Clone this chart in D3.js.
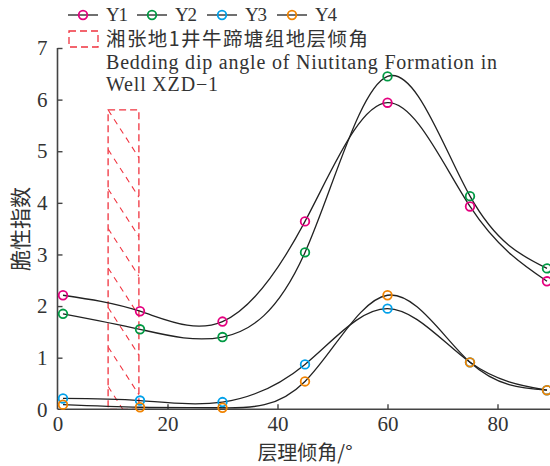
<!DOCTYPE html>
<html>
<head>
<meta charset="utf-8">
<script src="https://cdn.jsdelivr.net/npm/d3@7"></script>
<style>
  html, body { margin: 0; padding: 0; background: #fff; }
  svg { display: block; }
</style>
</head>
<body>
<svg id="chart" width="550" height="466"></svg>
<script>
// Bedding dip angle (degrees) at which brittleness indices were computed
const angles = [1, 15, 30, 45, 60, 75, 89];

// Brittleness index series
const y1 = [2.21, 1.90, 1.70, 3.64, 5.94, 3.93, 2.48];
const y2 = [1.85, 1.55, 1.40, 3.04, 6.45, 4.13, 2.73];
const y3 = [0.21, 0.17, 0.14, 0.87, 1.95, 0.91, 0.37];
const y4 = [0.09, 0.04, 0.03, 0.54, 2.21, 0.91, 0.37];

const seriesNames = ["Y1", "Y2", "Y3", "Y4"];
const seriesColors = ["#e4007f", "#009a44", "#00a0e9", "#f08300"];

// Dip-angle range of the Niutitang Formation in well XZD-1
const bandAngles = [9.2, 14.8];
const bandTop = 5.8;

const xTicks = [0, 20, 40, 60, 80];
const yTicks = [0, 1, 2, 3, 4, 5, 6, 7];

const xLabel = "层理倾角/°";
const yLabel = "脆性指数";
const bandLabelZh = "湘张地1井牛蹄塘组地层倾角";
const bandLabelEn = ["Bedding dip angle of Niutitang Formation in", "Well XZD\u22121"];

const svg = d3.select("#chart");
const serif = "'Liberation Serif', 'Times New Roman', serif";
const cjk = "'Noto Sans CJK SC', sans-serif";
const axisColor = "#444";

const x = d3.scaleLinear().domain([0, 90]).range([57.5, 552.5]);
const y = d3.scaleLinear().domain([0, 7]).range([409.3, 48]);

const series = [y1, y2, y3, y4].map((vals, i) => ({
  name: seriesNames[i],
  color: seriesColors[i],
  points: angles.map((a, j) => ({ a, v: vals[j] }))
}));

// Hatched band
const bx0 = x(bandAngles[0]), bx1 = x(bandAngles[1]);
const by0 = y(bandTop), by1 = y(0);
const red = "#f0333f";
const defs = svg.append("defs");
defs.append("clipPath").attr("id", "bandClip")
  .append("rect").attr("x", bx0).attr("y", by0).attr("width", bx1 - bx0).attr("height", by1 - by0);

const band = svg.append("g");
const hatchStep = 39.5, hatchSlope = 1.55;
const hatchStarts = d3.range(by0, by1, hatchStep);
band.append("g").attr("clip-path", "url(#bandClip)")
  .selectAll("line").data(hatchStarts).join("line")
  .attr("x1", bx0).attr("y1", d => d)
  .attr("x2", bx1).attr("y2", d => d + hatchSlope * (bx1 - bx0))
  .attr("stroke", red).attr("stroke-width", 1.1)
  .attr("stroke-dasharray", "6,5");
band.append("rect")
  .attr("x", bx0).attr("y", by0).attr("width", bx1 - bx0).attr("height", by1 - by0)
  .attr("fill", "none").attr("stroke", red).attr("stroke-width", 1.3)
  .attr("stroke-dasharray", "7,4");

// Axes
const xAxis = d3.axisBottom(x).tickValues(xTicks).tickSize(-5).tickPadding(7).tickFormat(d3.format("d"));
const yAxis = d3.axisLeft(y).tickValues(yTicks).tickSize(-5).tickPadding(10).tickFormat(d3.format("d"));

const gx = svg.append("g").attr("transform", `translate(0,${y(0)})`).call(xAxis);
const gy = svg.append("g").attr("transform", `translate(${x(0)},0)`).call(yAxis);
[gx, gy].forEach(g => {
  g.select(".domain").attr("stroke", axisColor).attr("stroke-width", 1.6);
  g.selectAll(".tick line").attr("stroke", axisColor).attr("stroke-width", 1.4);
  g.selectAll(".tick text").attr("fill", "#333").style("font-family", serif).style("font-size", "21px");
});
gx.select(".domain").attr("d", `M${x(0)},0H550`);
gy.select(".domain").attr("d", `M0,${y(0)}V${y(7)}`);
gy.selectAll(".tick").filter(d => d === 0).select("line").remove();
gx.selectAll(".tick").filter(d => d === 0).select("line").remove();

// Axis titles
svg.append("text").attr("x", 305).attr("y", 460).attr("text-anchor", "middle")
  .style("font-family", cjk).style("font-size", "20px").attr("fill", "#333").text(xLabel);
svg.append("text").attr("transform", "translate(28,229) rotate(-90)").attr("text-anchor", "middle")
  .style("font-family", cjk).style("font-size", "21px").attr("fill", "#333").text(yLabel);

// Smooth curves through the points
const line = d3.line().x(d => x(d.a)).y(d => y(d.v)).curve(d3.curveNatural);
const plot = svg.append("g");
plot.selectAll("path.curve").data(series).join("path")
  .attr("class", "curve")
  .attr("d", d => line(d.points))
  .attr("fill", "none").attr("stroke", "#222").attr("stroke-width", 1.3);

// Markers
series.forEach(s => {
  plot.append("g").selectAll("circle").data(s.points).join("circle")
    .attr("cx", d => x(d.a)).attr("cy", d => y(d.v)).attr("r", 4.3)
    .attr("fill", "none").attr("stroke", s.color).attr("stroke-width", 1.8);
});

// Legend
const legend = svg.append("g");
const legX = [68, 137, 207, 277];
series.forEach((s, i) => {
  const g = legend.append("g").attr("transform", `translate(${legX[i]},15)`);
  g.append("line").attr("x1", 0).attr("x2", 30).attr("y1", 0).attr("y2", 0)
    .attr("stroke", "#222").attr("stroke-width", 1.3);
  g.append("circle").attr("cx", 15).attr("cy", 0).attr("r", 4.3)
    .attr("fill", "none").attr("stroke", s.color).attr("stroke-width", 1.8);
  g.append("text").attr("x", 38).attr("y", 6)
    .attr("textLength", 22).attr("lengthAdjust", "spacing")
    .style("font-family", serif).style("font-size", "19px").attr("fill", "#333").text(s.name);
});
legend.append("rect").attr("x", 69).attr("y", 31).attr("width", 29).attr("height", 16)
  .attr("fill", "none").attr("stroke", red).attr("stroke-width", 1.3).attr("stroke-dasharray", "7,4");
legend.append("text").attr("x", 106).attr("y", 46)
  .attr("textLength", 262).attr("lengthAdjust", "spacing")
  .style("font-family", cjk).style("font-size", "19.5px").attr("fill", "#333").text(bandLabelZh);
const enWidths = [391, 112];
bandLabelEn.forEach((t, i) => {
  legend.append("text").attr("x", 106).attr("y", 69 + i * 22)
    .attr("textLength", enWidths[i]).attr("lengthAdjust", "spacing")
    .style("font-family", serif).style("font-size", "20px").attr("fill", "#333").text(t);
});
</script>
</body>
</html>
